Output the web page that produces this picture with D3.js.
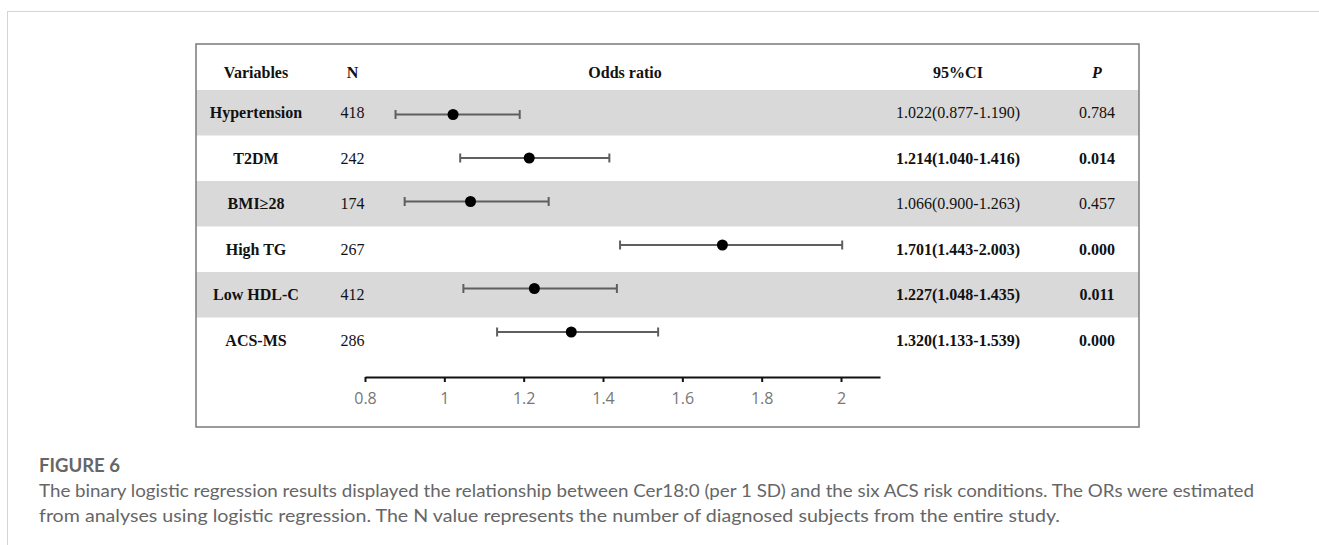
<!DOCTYPE html>
<html>
<head>
<meta charset="utf-8">
<script src="https://cdn.jsdelivr.net/npm/d3@7"></script>
<style>
  html, body { margin: 0; padding: 0; background: #fff; }
  svg { display: block; }
</style>
</head>
<body>
<svg id="chart" width="1319" height="545"></svg>
<script>
const variables = ["Hypertension", "T2DM", "BMI≥28", "High TG", "Low HDL-C", "ACS-MS"];
const nValues = [418, 242, 174, 267, 412, 286];
const oddsRatios = [1.022, 1.214, 1.066, 1.701, 1.227, 1.320];
const ciLower = [0.877, 1.040, 0.900, 1.443, 1.048, 1.133];
const ciUpper = [1.190, 1.416, 1.263, 2.003, 1.435, 1.539];
const pValues = ["0.784", "0.014", "0.457", "0.000", "0.011", "0.000"];
const xTicks = [0.8, 1, 1.2, 1.4, 1.6, 1.8, 2];
const headers = ["Variables", "N", "Odds ratio", "95%CI", "P"];
const figureLabel = "FIGURE 6";
const captionLines = [
  "The binary logistic regression results displayed the relationship between Cer18:0 (per 1 SD) and the six ACS risk conditions. The ORs were estimated",
  "from analyses using logistic regression. The N value represents the number of diagnosed subjects from the entire study."
];

const rows = variables.map((v, i) => ({
  v, n: nValues[i], or: oddsRatios[i], lo: ciLower[i], hi: ciUpper[i], p: pValues[i],
  sig: +pValues[i] < 0.05
}));

const svg = d3.select("#chart");
const serif = "'Liberation Serif', 'Times New Roman', serif";

// outer page frame
svg.append("rect").attr("x", 7.5).attr("y", 11.5).attr("width", 1330).attr("height", 560)
  .attr("fill", "none").attr("stroke", "#d4d4d4").attr("stroke-width", 1);

const box = { x0: 196, x1: 1139, y0: 44, y1: 427 };
const colX = { v: 256, n: 352.5, or: 625, ci: 958, p: 1097 };

// table row bands
const yRow = d3.scaleBand().domain(variables).range([90, 363]);
// plot rows (CI lines)
const yPlot = d3.scalePoint().domain(variables).range([114.5, 332]);
// x scale
const x = d3.scaleLinear().domain([0.8, 2.0983]).range([365, 880]);

svg.append("g").selectAll("rect").data(rows.filter((d, i) => i % 2 === 0)).join("rect")
  .attr("x", box.x0).attr("width", box.x1 - box.x0)
  .attr("y", d => yRow(d.v)).attr("height", yRow.bandwidth())
  .attr("fill", "#d9d9d9");

// box border
svg.append("rect").attr("x", box.x0).attr("y", box.y0)
  .attr("width", box.x1 - box.x0).attr("height", box.y1 - box.y0)
  .attr("fill", "none").attr("stroke", "#7a7a7a").attr("stroke-width", 1.5);

// headers
const hdr = svg.append("g").attr("font-family", serif).attr("font-size", 16)
  .attr("font-weight", "bold").attr("fill", "#111").attr("text-anchor", "middle");
const hx = [colX.v, colX.n, colX.or, colX.ci, colX.p];
headers.forEach((h, i) => {
  hdr.append("text").attr("x", hx[i]).attr("y", 78)
    .attr("font-style", h === "P" ? "italic" : "normal").text(h);
});

// table text
const tg = svg.append("g").attr("font-family", serif).attr("font-size", 16)
  .attr("fill", "#111").attr("text-anchor", "middle");
const base = d => yRow(d.v) + yRow.bandwidth() / 2 + 5.5;
tg.selectAll(".vn").data(rows).join("text").attr("class", "vn")
  .attr("x", colX.v).attr("y", base).attr("font-weight", "bold").text(d => d.v);
tg.selectAll(".nn").data(rows).join("text").attr("class", "nn")
  .attr("x", colX.n).attr("y", base).text(d => d.n);
tg.selectAll(".ci").data(rows).join("text").attr("class", "ci")
  .attr("x", colX.ci).attr("y", base).attr("font-weight", d => d.sig ? "bold" : "normal")
  .text(d => `${d.or.toFixed(3)}(${d.lo.toFixed(3)}-${d.hi.toFixed(3)})`);
tg.selectAll(".pv").data(rows).join("text").attr("class", "pv")
  .attr("x", colX.p).attr("y", base).attr("font-weight", d => d.sig ? "bold" : "normal")
  .text(d => d.p);

// CI lines
const cg = svg.append("g");
const lineCol = "#5f5f5f";
cg.selectAll(".cil").data(rows).join("line").attr("class", "cil")
  .attr("x1", d => x(d.lo)).attr("x2", d => x(d.hi))
  .attr("y1", d => yPlot(d.v)).attr("y2", d => yPlot(d.v))
  .attr("stroke", lineCol).attr("stroke-width", 2);
["lo", "hi"].forEach(k => {
  cg.selectAll(".cap" + k).data(rows).join("line").attr("class", "cap" + k)
    .attr("x1", d => x(d[k])).attr("x2", d => x(d[k]))
    .attr("y1", d => yPlot(d.v) - 4.5).attr("y2", d => yPlot(d.v) + 4.5)
    .attr("stroke", lineCol).attr("stroke-width", 2);
});
cg.selectAll("circle").data(rows).join("circle")
  .attr("cx", d => x(d.or)).attr("cy", d => yPlot(d.v)).attr("r", 5.5)
  .attr("fill", "#000");

// axis
const axis = d3.axisBottom(x).tickValues(xTicks).tickSize(5).tickSizeOuter(0)
  .tickPadding(11).tickFormat(d => String(+d.toFixed(1)));
const ag = svg.append("g").attr("transform", "translate(0,377)").call(axis);
ag.select(".domain").attr("stroke", "#111").attr("stroke-width", 2);
ag.selectAll(".tick line").attr("stroke", "#111").attr("stroke-width", 2);
ag.selectAll(".tick text").attr("font-family", "'Open Sans', 'Noto Sans', sans-serif")
  .attr("font-size", 16).attr("fill", "#777");

// caption
svg.append("text").attr("x", 39).attr("y", 472)
  .attr("font-family", "Lato, 'Open Sans', sans-serif").attr("font-size", 18)
  .attr("font-weight", "bold").attr("fill", "#666")
  .attr("textLength", 81).attr("lengthAdjust", "spacingAndGlyphs").text(figureLabel);
const capEnds = [1254, 1060];
captionLines.forEach((t, i) => {
  svg.append("text").attr("x", 39).attr("y", 497 + i * 25)
    .attr("font-family", "Lato, 'Open Sans', sans-serif").attr("font-size", 17)
    .attr("fill", "#666")
    .attr("textLength", capEnds[i] - 39).attr("lengthAdjust", "spacingAndGlyphs").text(t);
});
</script>
</body>
</html>
